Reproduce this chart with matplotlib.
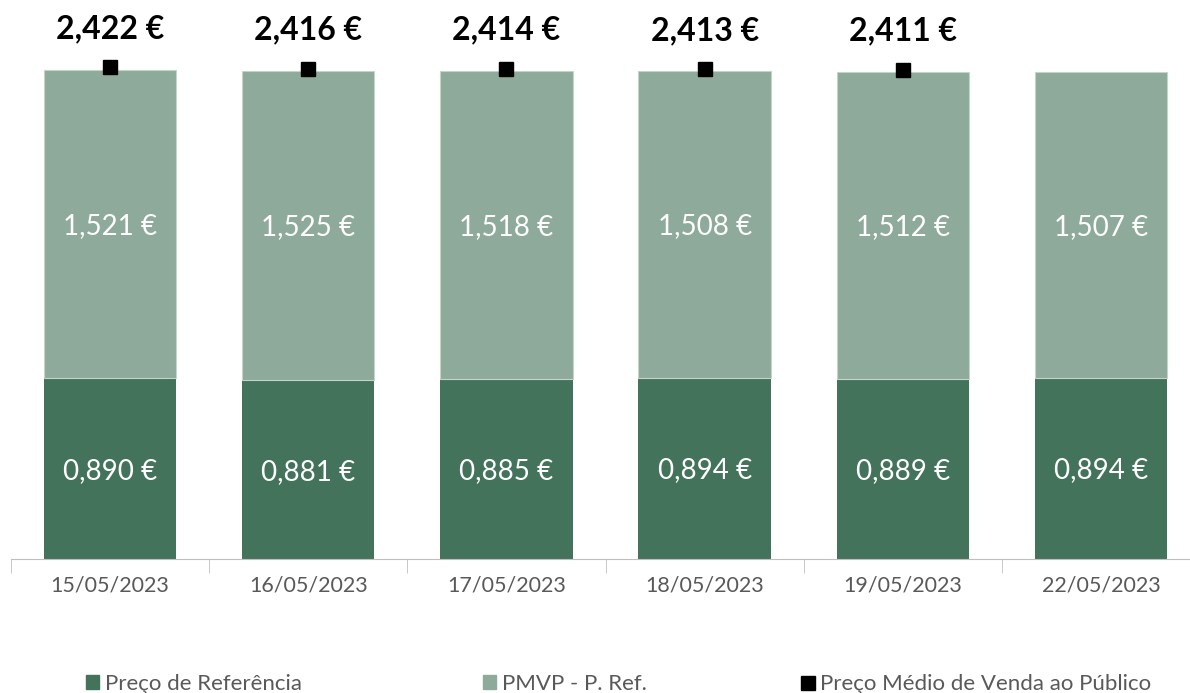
import matplotlib.pyplot as plt
from matplotlib.lines import Line2D
from matplotlib.patches import Patch
import numpy as np

plt.rcParams['font.family'] = ['Lato', 'DejaVu Sans']

# Data
datas = ['15/05/2023', '16/05/2023', '17/05/2023', '18/05/2023', '19/05/2023', '22/05/2023']
preco_ref = [0.890, 0.881, 0.885, 0.894, 0.889, 0.894]
pmvp_menos_ref = [1.521, 1.525, 1.518, 1.508, 1.512, 1.507]
pmvp = [2.422, 2.416, 2.414, 2.413, 2.411, np.nan]

dark = '#44735C'
light = '#8DAA9A'

fig = plt.figure(figsize=(11.9, 6.93), dpi=100)
ax = fig.add_axes([11 / 1190, 1 - 559 / 693, 1189 / 1190, 559 / 693])

x = np.arange(len(datas))
ax.bar(x, preco_ref, width=0.667, color=dark)
ax.bar(x, pmvp_menos_ref, width=0.667, bottom=preco_ref, color=light,
       edgecolor='#c5d3cb', linewidth=0.8)
ax.plot(x, pmvp, linestyle='none', marker='s', markersize=10, color='black')

fmt = lambda v: f'{v:.3f}'.replace('.', ',') + ' €'
for i in range(len(datas)):
    ax.text(x[i], preco_ref[i] / 2 - 0.01, fmt(preco_ref[i]), ha='center', va='center',
            color='white', fontsize=20)
    ax.text(x[i], preco_ref[i] + pmvp_menos_ref[i] / 2 - 0.01, fmt(pmvp_menos_ref[i]),
            ha='center', va='center', color='white', fontsize=20)
    if not np.isnan(pmvp[i]):
        ax.text(x[i], pmvp[i] + 0.12, fmt(pmvp[i]), ha='center', va='bottom',
                color='black', fontsize=23, fontweight='bold')

ax.set_xlim(-0.5, len(datas) - 0.5)
ax.set_ylim(0, 2.754)
ax.set_yticks([])
for s in ['top', 'right', 'left']:
    ax.spines[s].set_visible(False)
ax.spines['bottom'].set_color('#bfbfbf')
ax.set_xticks(x)
ax.set_xticklabels(datas, fontsize=15.5, color='#595959')
ax.tick_params(axis='x', length=0, pad=12)
ax.set_xticks(np.arange(-0.5, len(datas), 1), minor=True)
ax.tick_params(axis='x', which='minor', length=10, color='#bfbfbf')

# legend: three separate entries, placed like the original
handles = [Patch(color=dark), Patch(color=light),
           Line2D([], [], marker='s', linestyle='none', color='black', markersize=10)]
labels = ['Preço de Referência', 'PMVP - P. Ref.', 'Preço Médio de Venda ao Público']
leg_x = [66, 463, 781]
for h, lab, lx in zip(handles, labels, leg_x):
    fig.legend([h], [lab], loc='center left', bbox_to_anchor=(lx / 1190, 1 - 684 / 693),
               frameon=False, fontsize=16, handlelength=0.6, handleheight=0.6,
               handletextpad=0.25, labelcolor='#595959')

fig.savefig('out.png', dpi=100)
